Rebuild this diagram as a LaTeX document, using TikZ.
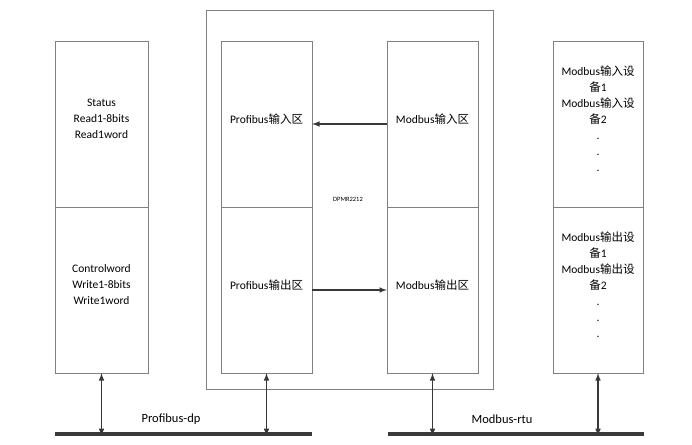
\documentclass[tikz,border=0pt]{standalone}
\usepackage{fontspec}
\setmainfont{Carlito}
\newfontfamily\cjk{Noto Sans CJK SC}
\newcommand{\zh}[1]{{\cjk #1}}
\definecolor{boxgray}{HTML}{808080}
\definecolor{linegray}{HTML}{383838}
\definecolor{busgray}{HTML}{3A3A3A}
\tikzset{
  zone/.style={draw=boxgray,fill=white,minimum height=166pt,align=center,
    inner sep=1pt,text depth=10pt,font=\fontsize{11.5}{16}\selectfont},
  frame/.style={draw=boxgray,minimum width=287pt,minimum height=379pt},
  link/.style={draw=linegray,line width=1.5pt,-latex},
  tap/.style={draw=linegray,line width=1.5pt,latex-latex},
  bus/.style={draw=busgray,line width=4.5pt},
  busname/.style={font=\fontsize{12.5}{15}\selectfont}
}

\begin{document}
\begin{tikzpicture}[x=1pt,y=-1pt]
  \useasboundingbox (0,0) rectangle (692,444);

  % — DPMR2212 gateway frame
  \node[frame] (dpm) at (349.5,199.5) {};
  \node[font=\fontsize{6.5}{8}\selectfont] (dpmname) at (348,199) {DPMR2212};

  % — Profibus master side
  \node[zone,minimum width=93pt] (stTop) at (101.5,124)
    {Status\\Read1-8bits\\Read1word};
  \node[zone,minimum width=93pt] (stBot) at (101.5,290)
    {Controlword\\Write1-8bits\\Write1word};

  % — Gateway memory areas
  \node[zone,minimum width=91pt] (pbIn)  at (266.5,124) {Profibus\zh{输入区}};
  \node[zone,minimum width=91pt] (pbOut) at (266.5,290) {Profibus\zh{输出区}};
  \node[zone,minimum width=91pt] (mbIn)  at (432.5,124) {Modbus\zh{输入区}};
  \node[zone,minimum width=91pt] (mbOut) at (432.5,290) {Modbus\zh{输出区}};

  % — Modbus devices
  \node[zone,minimum width=90pt] (devIn) at (598,124)
    {Modbus\zh{输入设}\\\zh{备}1\\Modbus\zh{输入设}\\\zh{备}2\\.\\.\\.};
  \node[zone,minimum width=90pt] (devOut) at (598,290)
    {Modbus\zh{输出设}\\\zh{备}1\\Modbus\zh{输出设}\\\zh{备}2\\.\\.\\.};

  % — Data flow inside the gateway
  \draw[link] (mbIn.west) -- (pbIn.east);
  \draw[link] (pbOut.east) -- (mbOut.west);

  % — Field buses
  \coordinate (pbL) at (55,434);
  \coordinate (pbR) at (312,434);
  \coordinate (mbL) at (388,434);
  \coordinate (mbR) at (644,434);
  \draw[bus] (pbL) -- (pbR);
  \draw[bus] (mbL) -- (mbR);
  \node[busname] (pbname) at (171,419) {Profibus-dp};
  \node[busname] (mbname) at (502,419) {Modbus-rtu};

  % — Bus taps
  \draw[tap] (stBot.south) -- ([yshift=-2pt]stBot.south |- pbL);
  \draw[tap] (pbOut.south) -- ([yshift=-2pt]pbOut.south |- pbL);
  \draw[tap] (mbOut.south) -- ([yshift=-2pt]mbOut.south |- mbL);
  \draw[tap] (devOut.south) -- ([yshift=-2pt]devOut.south |- mbL);
\end{tikzpicture}
\end{document}
